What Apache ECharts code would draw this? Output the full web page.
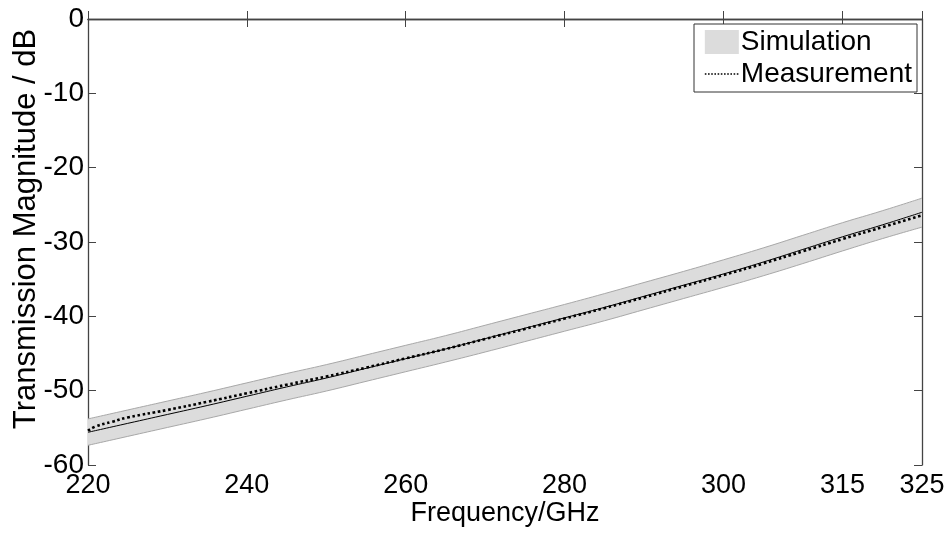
<!DOCTYPE html>
<html>
<head>
<meta charset="utf-8">
<script src="https://cdn.jsdelivr.net/npm/echarts@6/dist/echarts.min.js"></script>
<style>
  html, body { margin: 0; padding: 0; background: #fff; }
  #chart { width: 949px; height: 534px; }
</style>
</head>
<body>
<div id="chart"></div>
<script>
// frequency grid for the simulation band (GHz)
const simFreq = [220, 225, 230, 235, 240, 245, 250, 255, 260, 265, 270, 275, 280, 285, 290, 295, 300, 305, 310, 315, 320, 325]
const simCenter = [-55.6, -54.4, -53.2, -52.0, -50.75, -49.5, -48.3, -47.0, -45.7, -44.4, -43.0, -41.6, -40.2, -38.8, -37.3, -35.8, -34.3, -32.7, -31.0, -29.3, -27.7, -26.0]
const simUpper = [-53.8, -52.6, -51.4, -50.2, -48.95, -47.7, -46.5, -45.2, -43.9, -42.6, -41.2, -39.8, -38.4, -36.95, -35.45, -33.95, -32.4, -30.8, -29.1, -27.4, -25.8, -24.1]
const simLower = [-57.35, -56.15, -54.95, -53.75, -52.5, -51.25, -50.05, -48.75, -47.45, -46.15, -44.8, -43.4, -42.0, -40.6, -39.1, -37.6, -36.1, -34.55, -32.9, -31.2, -29.55, -28.0]

const measFreq = [220, 221, 223, 225, 230, 235, 240, 245, 250, 255, 260, 265, 270, 275, 280, 285, 290, 295, 300, 305, 310, 315, 320, 325]
const measValues = [-55.4, -54.8, -54.2, -53.6, -52.6, -51.5, -50.35, -49.2, -48.1, -46.9, -45.65, -44.4, -43.05, -41.7, -40.3, -38.9, -37.45, -35.95, -34.45, -32.9, -31.25, -29.6, -28.0, -26.4]

const xTicks = [220, 240, 260, 280, 300, 315, 325]

const chart = echarts.init(document.getElementById('chart'))

const font = 'Liberation Sans, Arial, sans-serif'
const axisColor = '#444'
const edgeColor = '#a8a8a8'
const bandColor = '#dcdcdc'

// rows are [dB, GHz] so the stacked dimension is the y value
const rows = (xs, ys) => xs.map((x, i) => [ys[i], x])

const option = {
  animation: false,
  backgroundColor: '#fff',
  textStyle: { fontFamily: font, color: '#000' },
  grid: { left: 88, right: 27, top: 19, bottom: 69, outerBoundsMode: 'none', containLabel: false },
  legend: {
    orient: 'vertical',
    right: 32,
    top: 24,
    padding: [4, 5, 4, 10],
    itemGap: 4,
    itemWidth: 34,
    itemHeight: 24,
    backgroundColor: '#fff',
    borderColor: '#333',
    borderWidth: 1,
    textStyle: { fontSize: 28, color: '#000', fontFamily: font, padding: [0, 0, 0, -3] },
    data: [
      { name: 'Simulation', icon: 'rect', itemStyle: { color: bandColor, borderWidth: 0 } },
      {
        name: 'Measurement',
        itemStyle: { opacity: 0 },
        lineStyle: { color: '#000', width: 1.6, type: [1.6, 1.6] }
      }
    ]
  },
  xAxis: [
    {
      type: 'value',
      min: 220,
      max: 325,
      name: 'Frequency/GHz',
      nameLocation: 'middle',
      nameGap: 35,
      nameMoveOverlap: false,
      nameTextStyle: { fontSize: 27, color: '#000' },
      axisLine: { lineStyle: { color: axisColor, width: 1.3 } },
      axisTick: { inside: true, length: 8, lineStyle: { color: axisColor }, customValues: xTicks },
      axisLabel: { fontSize: 27, color: '#000', margin: 7, customValues: xTicks },
      splitLine: { show: false }
    },
    {
      type: 'value',
      position: 'top',
      min: 220,
      max: 325,
      axisLine: { lineStyle: { color: axisColor, width: 1.3 } },
      axisTick: { inside: true, length: 8, lineStyle: { color: axisColor }, customValues: xTicks },
      axisLabel: { show: false },
      splitLine: { show: false }
    }
  ],
  yAxis: [
    {
      type: 'value',
      min: -60,
      max: 0,
      interval: 10,
      name: 'Transmission Magnitude / dB',
      nameLocation: 'middle',
      nameGap: 46,
      nameMoveOverlap: false,
      nameTextStyle: { fontSize: 31, color: '#000', padding: [0, 0, 0, 26] },
      axisLine: { lineStyle: { color: axisColor, width: 1.3 } },
      axisTick: { inside: true, length: 8, lineStyle: { color: axisColor } },
      axisLabel: { fontSize: 28, color: '#000', margin: 4 },
      splitLine: { show: false }
    },
    {
      type: 'value',
      position: 'right',
      min: -60,
      max: 0,
      interval: 10,
      axisLine: { lineStyle: { color: axisColor, width: 1.3 } },
      axisTick: { inside: true, length: 8, lineStyle: { color: axisColor } },
      axisLabel: { show: false },
      splitLine: { show: false }
    }
  ],
  series: [
    {
      name: 'simLower',
      type: 'line',
      stack: 'band',
      stackStrategy: 'all',
      symbol: 'none',
      smooth: true,
      encode: { x: 1, y: 0 },
      data: rows(simFreq, simLower),
      lineStyle: { color: edgeColor, width: 1 }
    },
    {
      name: 'Simulation',
      type: 'line',
      stack: 'band',
      stackStrategy: 'all',
      symbol: 'none',
      smooth: true,
      color: bandColor,
      encode: { x: 1, y: 0 },
      data: rows(simFreq, simUpper.map((u, i) => u - simLower[i])),
      lineStyle: { color: edgeColor, width: 1 },
      areaStyle: { color: bandColor, opacity: 1 }
    },
    {
      name: 'simCenter',
      type: 'line',
      symbol: 'none',
      smooth: true,
      encode: { x: 1, y: 0 },
      data: rows(simFreq, simCenter),
      lineStyle: { color: '#000', width: 1 }
    },
    {
      name: 'Measurement',
      type: 'line',
      symbol: 'none',
      smooth: true,
      color: '#000',
      encode: { x: 1, y: 0 },
      data: rows(measFreq, measValues),
      lineStyle: { color: '#000', width: 2.6, type: [2.6, 2.6] }
    }
  ]
}

chart.setOption(option)
</script>
</body>
</html>
